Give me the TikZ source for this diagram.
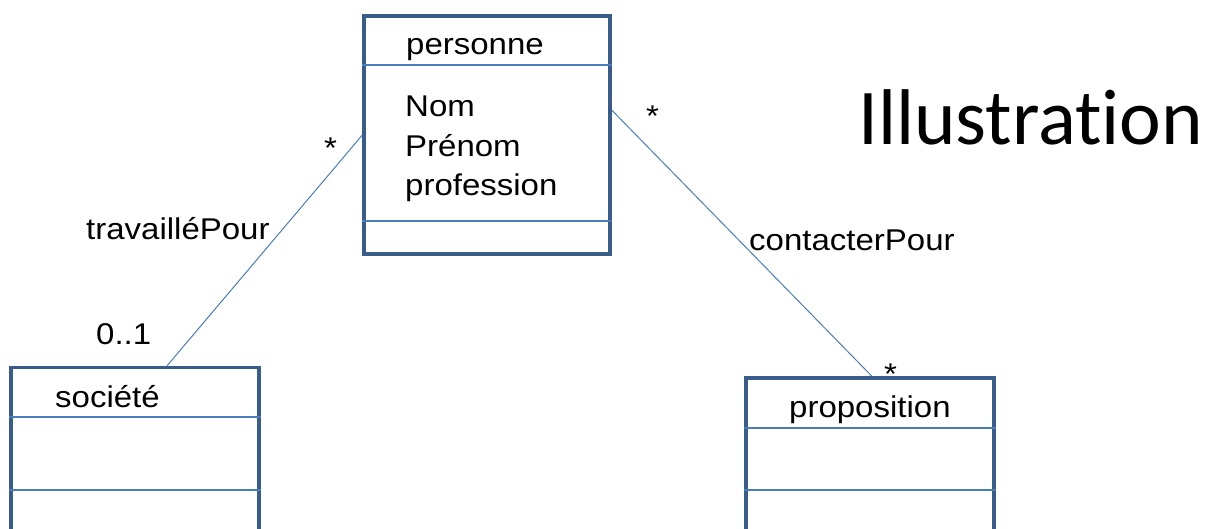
\documentclass[tikz,border=0pt]{standalone}
\usepackage{fontspec}
\setmainfont{Liberation Sans}[FakeStretch=1.1]
\newfontfamily\titlefont{Carlito}[Ligatures=NoCommon]
\definecolor{boxedge}{HTML}{385D8A}
\definecolor{boxline}{HTML}{4A7EBB}
\tikzset{
  classbox/.style={draw=boxedge, line width=3.3pt, inner sep=0pt, minimum width=248pt},
  sepline/.style={draw=boxline, line width=2pt},
  assoc/.style={draw=boxline, line width=1pt},
  txt/.style={inner sep=0pt, anchor=base west, font=\fontsize{30}{36}\selectfont}
}

\begin{document}
\begin{tikzpicture}[x=1pt, y=-1pt]
\useasboundingbox (0,0) rectangle (1215,528);
\clip (0,0) rectangle (1215,528);

% classes
\node[classbox, minimum width=246pt, minimum height=238pt] (personne) at (487,135) {};
\node[classbox, minimum height=193pt] (societe) at (135,464) {};
\node[classbox, minimum height=182pt] (proposition) at (870,469) {};

\draw[sepline] ([yshift=-51pt]personne.north west) -- ([yshift=-51pt]personne.north east);
\draw[sepline] ([yshift=-207pt]personne.north west) -- ([yshift=-207pt]personne.north east);
\draw[sepline] ([yshift=-51pt]societe.north west) -- ([yshift=-51pt]societe.north east);
\draw[sepline] ([yshift=-124pt]societe.north west) -- ([yshift=-124pt]societe.north east);
\draw[sepline] ([yshift=-52pt]proposition.north west) -- ([yshift=-52pt]proposition.north east);
\draw[sepline] ([yshift=-114pt]proposition.north west) -- ([yshift=-114pt]proposition.north east);

\node[txt] (personne-name) at (406,54) {personne};
\foreach \a [count=\i] in {Nom, Prénom, profession}
{
    \node[txt] (attr-\i) at (405,77+39.5*\i) {\a};
}
\node[txt] (societe-name) at (55,407) {société};
\node[txt] (proposition-name) at (789,417) {proposition};

% associations
\coordinate (travaille-end) at ([xshift=32pt]societe.north);
\coordinate (contacter-start) at ([yshift=25pt]personne.east);
\coordinate (contacter-end) at ([xshift=2pt]proposition.north);
\draw[assoc] (personne.west) -- (travaille-end);
\draw[assoc] (contacter-start) -- (contacter-end);

\node[txt] (travaille) at (86,239) {travailléPour};
\node[txt] (mult-societe) at (96,344) {0..1};
\node[txt] (mult-left) at (324,158) {*};
\node[txt] (contacter) at (749,250) {contacterPour};
\node[txt] (mult-right) at (646,126) {*};
\node[txt] (mult-proposition) at (884,384) {*};

\node[inner sep=0pt, anchor=base west, font=\titlefont\fontsize{79}{90}\selectfont] (title) at (858,144) {Illustration};
\end{tikzpicture}
\end{document}
